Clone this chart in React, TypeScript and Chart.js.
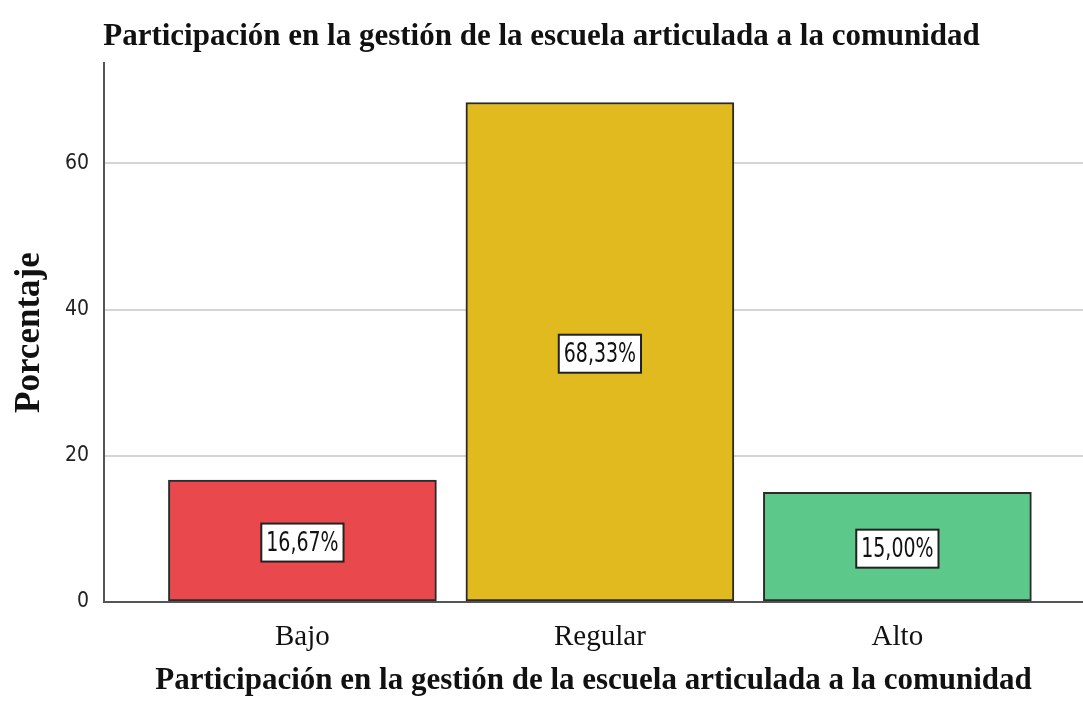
import React, { useEffect, useRef } from "react";
import { Chart, registerables } from "chart.js";

Chart.register(...registerables);

const categories: string[] = ["Bajo", "Regular", "Alto"];
const percentages: number[] = [16.67, 68.33, 15.0];
const barColors: string[] = ["#E9494C", "#E0BA1E", "#5CC98B"];
const yTicks: number[] = [0, 20, 40, 60];
const chartTitle = "Participación en la gestión de la escuela articulada a la comunidad";
const xTitle = "Participación en la gestión de la escuela articulada a la comunidad";
const yTitle = "Porcentaje";

const fmt = (v: number) => v.toFixed(2).replace(".", ",") + "%";

const boxLabels = {
  id: "boxLabels",
  afterDatasetsDraw(chart: any) {
    const ctx = chart.ctx;
    const meta = chart.getDatasetMeta(0);
    const sx = 0.78;
    ctx.save();
    ctx.font = "27px 'DejaVu Sans Condensed', 'Liberation Sans Narrow', 'Liberation Sans', sans-serif";
    ctx.textAlign = "center";
    ctx.textBaseline = "middle";
    meta.data.forEach((bar: any, i: number) => {
      const text = fmt(percentages[i]);
      const cx = bar.x;
      const cy = (bar.y + bar.base) / 2 + 2;
      const w = ctx.measureText(text).width * sx + 10;
      const h = 38;
      ctx.fillStyle = "#ffffff";
      ctx.fillRect(cx - w / 2, cy - h / 2, w, h);
      ctx.lineWidth = 2;
      ctx.strokeStyle = "#222222";
      ctx.strokeRect(cx - w / 2, cy - h / 2, w, h);
      ctx.save();
      ctx.translate(cx, cy + 1);
      ctx.scale(sx, 1);
      ctx.fillStyle = "#111111";
      ctx.fillText(text, 0, 0);
      ctx.restore();
    });
    ctx.restore();
  },
};

export default function App() {
  const canvasRef = useRef<HTMLCanvasElement | null>(null);

  useEffect(() => {
    if (!canvasRef.current) return;
    const chart = new Chart(canvasRef.current, {
      type: "bar",
      data: {
        datasets: [
          {
            data: percentages.map((v, i) => ({ x: i, y: v })) as any,
            backgroundColor: barColors,
            borderColor: "#2a2a2a",
            borderWidth: 2,
            borderSkipped: false,
            barThickness: 268,
          },
        ],
      },
      options: {
        animation: false,
        responsive: true,
        maintainAspectRatio: false,
        layout: { padding: 0 },
        plugins: {
          legend: { display: false },
          tooltip: { enabled: false },
          title: {
            display: true,
            text: chartTitle,
            color: "#111111",
            font: { family: "'Liberation Serif', 'Times New Roman', serif", size: 31, weight: "bold" },
            padding: { top: 18, bottom: 8 },
          },
        },
        scales: {
          x: {
            type: "linear",
            offset: false,
            min: -0.667,
            max: 2.624,
            afterBuildTicks: (scale: any) => {
              scale.ticks = categories.map((_, i) => ({ value: i }));
            },
            afterFit: (scale: any) => {
              scale.height = 124;
            },
            grid: { display: false, drawTicks: false, offset: false },
            border: { display: true, color: "#555555", width: 2 },
            ticks: {
              callback: (value: any) => categories[value as number] ?? "",
              color: "#111111",
              padding: 18,
              autoSkip: false,
              maxRotation: 0,
              font: { family: "'Liberation Serif', 'Times New Roman', serif", size: 29 },
            },
            title: {
              display: true,
              text: xTitle,
              color: "#111111",
              padding: { top: 0, bottom: 26 },
              font: { family: "'Liberation Serif', 'Times New Roman', serif", size: 31, weight: "bold" },
            },
          },
          y: {
            min: 0,
            max: 73.7,
            afterBuildTicks: (scale: any) => {
              scale.ticks = yTicks.map((v) => ({ value: v }));
            },
            afterFit: (scale: any) => {
              scale.width = 104;
            },
            grid: { color: "#d4d4d4", lineWidth: 2, drawTicks: false },
            border: { display: true, color: "#555555", width: 2 },
            ticks: {
              color: "#222222",
              padding: 15,
              font: { family: "'DejaVu Sans Condensed', 'Liberation Sans Narrow', 'Liberation Sans', sans-serif", size: 21 },
            },
            title: {
              display: true,
              text: yTitle,
              color: "#111111",
              padding: { top: 9, bottom: 0 },
              font: { family: "'Liberation Serif', 'Times New Roman', serif", size: 35, weight: "bold" },
            },
          },
        },
      },
      plugins: [boxLabels],
    });
    return () => chart.destroy();
  }, []);

  return (
    <div style={{ position: "absolute", left: 0, top: 0, width: 1083, height: 726, background: "#ffffff" }}>
      <canvas ref={canvasRef} />
    </div>
  );
}
